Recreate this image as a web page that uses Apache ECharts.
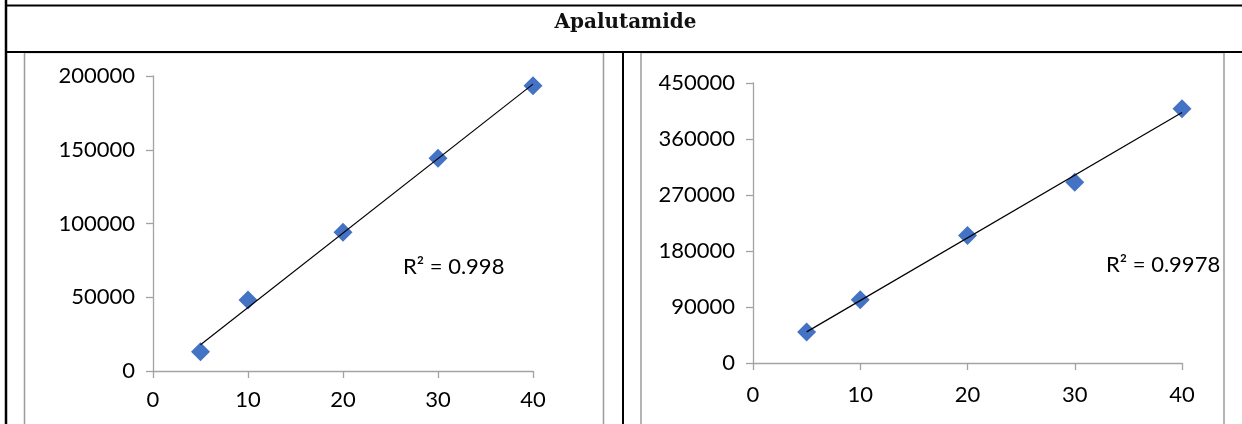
<!DOCTYPE html>
<html>
<head>
<meta charset="utf-8">
<script src="https://cdn.jsdelivr.net/npm/echarts@6/dist/echarts.min.js"></script>
<style>
  html, body { margin: 0; padding: 0; background: #fff; }
  #chart { width: 1242px; height: 424px; }
</style>
</head>
<body>
<div id="chart"></div>
<script>
// Calibration data for Apalutamide: concentration vs peak area
const title = 'Apalutamide';
const concentration = [5, 10, 20, 30, 40];
const areaLeft = [13100, 48100, 94000, 144200, 193400];
const areaRight = [49800, 101800, 205100, 290300, 408700];
const r2Left = '0.998';
const r2Right = '0.9978';
const xTicks = { min: 0, max: 40, interval: 10 };
const yTicksLeft = { min: 0, max: 200000, interval: 50000 };
const yTicksRight = { min: 0, max: 450000, interval: 90000 };

// least-squares fit, evaluated at the ends of the concentration range
function trend(xs, ys) {
  const n = xs.length;
  const mx = xs.reduce((a, b) => a + b, 0) / n;
  const my = ys.reduce((a, b) => a + b, 0) / n;
  let sxy = 0, sxx = 0;
  for (let i = 0; i < n; i++) {
    sxy += (xs[i] - mx) * (ys[i] - my);
    sxx += (xs[i] - mx) * (xs[i] - mx);
  }
  const b = sxy / sxx, a = my - b * mx;
  const x0 = Math.min(...xs), x1 = Math.max(...xs);
  return [[x0, a + b * x0], [x1, a + b * x1]];
}

const labelFont = 'Lato';
const axisGray = '#a3a3a3';
const blue = '#4472C4';
const plain = v => String(v);

function xAxis(gridIndex, margin) {
  return {
    type: 'value', gridIndex, min: xTicks.min, max: xTicks.max, interval: xTicks.interval,
    splitLine: { show: false },
    axisLine: { show: true, lineStyle: { color: axisGray, width: 1.3 } },
    axisTick: { show: true, length: 7, lineStyle: { color: axisGray, width: 1.3 } },
    axisLabel: { color: '#000', fontFamily: labelFont, fontSize: 22, margin, formatter: plain }
  };
}
function yAxis(gridIndex, t) {
  return {
    type: 'value', gridIndex, min: t.min, max: t.max, interval: t.interval,
    splitLine: { show: false },
    axisLine: { show: true, lineStyle: { color: axisGray, width: 1.3 } },
    axisTick: { show: true, length: 7, lineStyle: { color: axisGray, width: 1.3 } },
    axisLabel: { color: '#000', fontFamily: labelFont, fontSize: 22, margin: 18, formatter: plain }
  };
}
function points(xs, ys) { return xs.map((x, i) => [x, ys[i]]); }

const chart = echarts.init(document.getElementById('chart'), null, { renderer: 'canvas' });

chart.setOption({
  animation: false,
  backgroundColor: '#fff',
  grid: [
    { left: 153, top: 76, width: 380, height: 295 },
    { left: 753, top: 83, width: 429, height: 280 }
  ],
  xAxis: [xAxis(0, 18), xAxis(1, 21)],
  yAxis: [yAxis(0, yTicksLeft), yAxis(1, yTicksRight)],
  series: [
    { type: 'scatter', xAxisIndex: 0, yAxisIndex: 0, symbol: 'diamond', symbolSize: 19,
      itemStyle: { color: blue, opacity: 1 }, data: points(concentration, areaLeft), z: 2 },
    { type: 'line', xAxisIndex: 0, yAxisIndex: 0, symbol: 'none',
      lineStyle: { color: '#000', width: 1.2 }, data: trend(concentration, areaLeft), z: 3 },
    { type: 'scatter', xAxisIndex: 1, yAxisIndex: 1, symbol: 'diamond', symbolSize: 19,
      itemStyle: { color: blue, opacity: 1 }, data: points(concentration, areaRight), z: 2 },
    { type: 'line', xAxisIndex: 1, yAxisIndex: 1, symbol: 'none',
      lineStyle: { color: '#000', width: 1.2 }, data: trend(concentration, areaRight), z: 3 }
  ],
  graphic: [
    // chart frames
    { type: 'rect', shape: { x: 24.5, y: 52.5, width: 579, height: 400 }, silent: true,
      style: { fill: 'none', stroke: '#9c9c9c', lineWidth: 1.5 }, z: 0 },
    { type: 'rect', shape: { x: 641, y: 52.5, width: 583, height: 400 }, silent: true,
      style: { fill: 'none', stroke: '#9c9c9c', lineWidth: 1.5 }, z: 0 },
    // table rules
    { type: 'line', shape: { x1: 6, y1: 0, x2: 6, y2: 424 }, silent: true,
      style: { stroke: '#000', lineWidth: 2.5 }, z: 10 },
    { type: 'line', shape: { x1: 5, y1: 5.5, x2: 1242, y2: 5.5 }, silent: true,
      style: { stroke: '#000', lineWidth: 2 }, z: 10 },
    { type: 'line', shape: { x1: 5, y1: 52, x2: 1242, y2: 52 }, silent: true,
      style: { stroke: '#000', lineWidth: 2 }, z: 10 },
    { type: 'line', shape: { x1: 623, y1: 52, x2: 623, y2: 424 }, silent: true,
      style: { stroke: '#000', lineWidth: 2 }, z: 10 },
    // heading
    { type: 'text', x: 625.5, y: 22.5, scaleX: 0.95, silent: true,
      style: { text: title, fontFamily: 'DejaVu Serif', fontWeight: 'bold', fontSize: 21,
               fill: '#111', align: 'center', verticalAlign: 'middle' } },
    // R² labels
    { type: 'text', x: 403, y: 267, silent: true,
      style: { text: 'R² = ' + r2Left, fontFamily: labelFont, fontSize: 22, fill: '#000',
               align: 'left', verticalAlign: 'middle' } },
    { type: 'text', x: 1106, y: 265, silent: true,
      style: { text: 'R² = ' + r2Right, fontFamily: labelFont, fontSize: 22, fill: '#000',
               align: 'left', verticalAlign: 'middle' } }
  ]
});
</script>
</body>
</html>
